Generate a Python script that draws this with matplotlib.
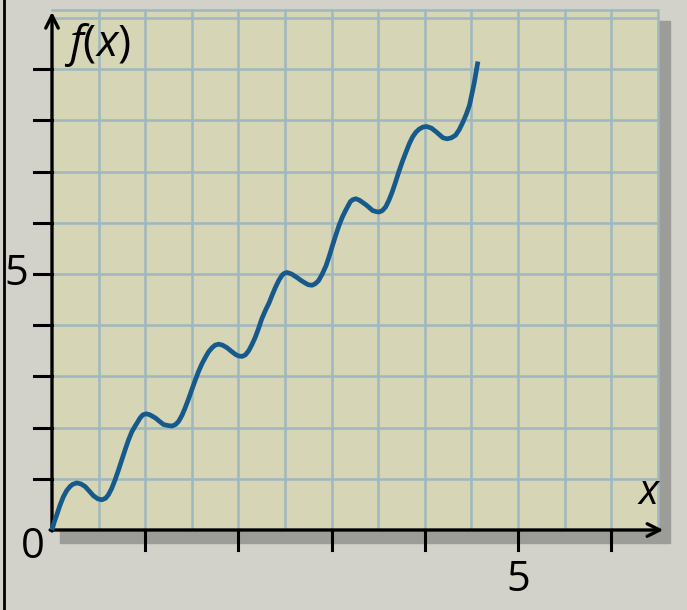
import numpy as np
import matplotlib
matplotlib.use("Agg")
import matplotlib.pyplot as plt
from matplotlib.patches import Rectangle

# ==========================================
# DATA
# ==========================================

curve_x = [0.0, 0.025, 0.05, 0.085, 0.122, 0.158, 0.194, 0.22, 0.266, 0.31,
           0.355, 0.40, 0.444, 0.49, 0.534, 0.575, 0.606, 0.64, 0.677, 0.713,
           0.749, 0.785, 0.821, 0.857, 0.892, 0.946, 0.975, 1.011, 1.05, 1.108,
           1.155, 1.197, 1.245, 1.287, 1.325, 1.358, 1.395, 1.43, 1.465, 1.502,
           1.54, 1.573, 1.61, 1.645, 1.68, 1.717, 1.75, 1.789, 1.83, 1.878,
           1.925, 1.968, 2.0, 2.04, 2.075, 2.11, 2.145, 2.18, 2.215, 2.25,
           2.29, 2.33, 2.365, 2.40, 2.435, 2.47, 2.49, 2.52, 2.57, 2.63,
           2.675, 2.72, 2.75, 2.79, 2.825, 2.86, 2.90, 2.94, 2.975, 3.01,
           3.045, 3.08, 3.115, 3.15, 3.20, 3.225, 3.26, 3.30, 3.37, 3.44,
           3.475, 3.51, 3.545, 3.58, 3.615, 3.65, 3.685, 3.72, 3.76, 3.80,
           3.835, 3.87, 3.905, 3.94, 3.98, 4.02, 4.07, 4.12, 4.195, 4.24,
           4.285, 4.33, 4.37, 4.41, 4.445, 4.48, 4.53, 4.57]
curve_y = [0.0, 0.16, 0.29, 0.48, 0.65, 0.77, 0.85, 0.89, 0.92, 0.90,
           0.85, 0.76, 0.67, 0.61, 0.59, 0.62, 0.69, 0.81, 0.98, 1.17,
           1.37, 1.57, 1.76, 1.92, 2.03, 2.19, 2.25, 2.27, 2.25, 2.19,
           2.12, 2.06, 2.04, 2.03, 2.06, 2.12, 2.24, 2.39, 2.56, 2.75,
           2.94, 3.10, 3.25, 3.37, 3.48, 3.56, 3.61, 3.63, 3.61, 3.56,
           3.49, 3.43, 3.40, 3.39, 3.42, 3.50, 3.62, 3.76, 3.93, 4.12,
           4.29, 4.44, 4.60, 4.75, 4.88, 4.98, 5.01, 5.03, 5.00, 4.93,
           4.87, 4.82, 4.79, 4.78, 4.81, 4.87, 5.00, 5.16, 5.35, 5.56,
           5.76, 5.95, 6.11, 6.24, 6.41, 6.45, 6.47, 6.44, 6.35, 6.24,
           6.22, 6.21, 6.24, 6.31, 6.44, 6.60, 6.79, 6.99, 7.20, 7.39,
           7.55, 7.68, 7.77, 7.83, 7.87, 7.88, 7.85, 7.78, 7.66, 7.64,
           7.66, 7.71, 7.82, 7.97, 8.12, 8.30, 8.73, 9.15]

x_ticks = [1, 2, 3, 4, 5, 6]
y_ticks = [1, 2, 3, 4, 5, 6, 7, 8, 9]
x_grid = np.arange(0.5, 6.51, 0.5)
y_grid = np.arange(1, 10.2, 1)

# ==========================================
# STYLE
# ==========================================

plt.rcParams["mathtext.fontset"] = "custom"
plt.rcParams["mathtext.rm"] = "Open Sans"
plt.rcParams["mathtext.it"] = "Open Sans:italic"

FUNDO = "#d2d2ca"
PAPEL = "#d6d5b5"
GRADE = "#9fb7bf"
SOMBRA = "#9c9c98"
CURVA = "#155a8a"

# ==========================================
# FIGURE
# ==========================================

fig = plt.figure(figsize=(6.87, 6.10), dpi=100)
fig.patch.set_facecolor(FUNDO)
ax = fig.add_axes([0, 0, 1, 1])
ax.set_facecolor(FUNDO)
ax.set_xlim(-52 / 93.2, (687 - 52) / 93.2)
ax.set_ylim(-(610 - 530) / 51.2, 530 / 51.2)
ax.axis("off")

x_max, y_max = 6.49, 10.16

# shadow + paper
ax.add_patch(Rectangle((0.09, -0.25), 6.54, 10.2, color=SOMBRA, zorder=0))
ax.add_patch(Rectangle((0, 0), x_max, y_max, color=PAPEL, zorder=1))

# grid
for gx in x_grid:
    ax.plot([gx, gx], [0, y_max], color=GRADE, lw=1.8, zorder=2)
for gy in y_grid:
    ax.plot([0, x_max], [gy, gy], color=GRADE, lw=1.8, zorder=2)
ax.plot([0, x_max], [y_max, y_max], color=GRADE, lw=1.8, zorder=2)

# axes with arrows
seta = dict(arrowstyle="->,head_length=0.9,head_width=0.45", lw=2.4,
            color="black", shrinkA=0, shrinkB=0)
ax.annotate("", xy=(6.56, 0), xytext=(-0.02, 0), arrowprops=seta, zorder=4)
ax.annotate("", xy=(0, 10.12), xytext=(0, -0.02), arrowprops=seta, zorder=4)

# ticks
for t in x_ticks:
    ax.plot([t, t], [0, -0.4], color="black", lw=2.2, zorder=4)
for t in y_ticks:
    ax.plot([0, -0.19], [t, t], color="black", lw=2.2, zorder=4)

# curve
ax.plot(curve_x, curve_y, color=CURVA, lw=3.4, solid_joinstyle="round",
        solid_capstyle="butt", zorder=5)

# labels
fonte = dict(family="Open Sans", fontsize=30, color="black", zorder=6)
ax.text(-0.21, -0.33, "0", ha="center", va="center", **fonte)
ax.text(-0.38, 5.0, "5", ha="center", va="center", **fonte)
ax.text(5.0, -0.98, "5", ha="center", va="center", **fonte)
ax.text(6.41, 0.72, r"$x$", ha="center", va="center", **fonte)
fonte["fontsize"] = 32
ax.text(0.13, 9.48, r"$f(x)$", ha="left", va="center", **fonte)

# left frame edge of the photo
ax.plot([-0.515, -0.515], [-2, 11], color="black", lw=2, zorder=6)

plt.savefig("out.png", dpi=100, facecolor=FUNDO)
plt.close()
